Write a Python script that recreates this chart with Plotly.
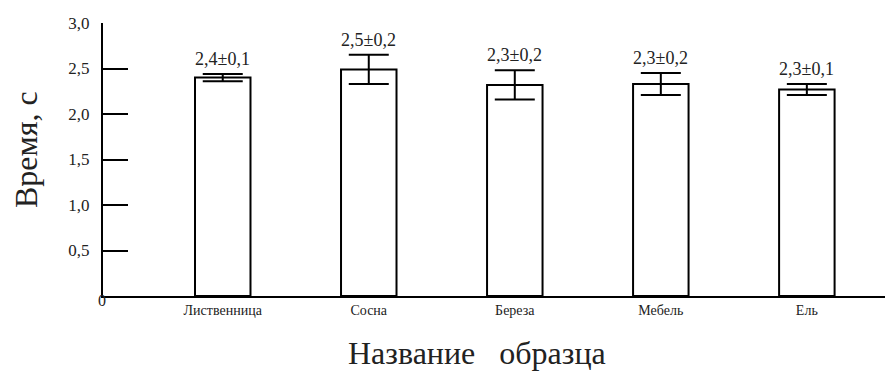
import plotly.graph_objects as go

categories = ["Лиственница", "Сосна", "Береза", "Мебель", "Ель"]
values = [2.40, 2.49, 2.32, 2.33, 2.27]
errors = [0.04, 0.16, 0.16, 0.12, 0.06]
value_labels = ["2,4±0,1", "2,5±0,2", "2,3±0,2", "2,3±0,2", "2,3±0,1"]
y_tickvals = [0.5, 1.0, 1.5, 2.0, 2.5, 3.0]
y_ticktext = ["0,5", "1,0", "1,5", "2,0", "2,5", "3,0"]
x_title = "Название   образца"
y_title = "Время, с"

FONT = "Liberation Serif, Times New Roman, serif"
TXT = "#222"

# page body has an 8px margin; figure is sized/offset to compensate
OFF = 8
W, H = 893 - OFF, 371 - OFF
L, T = 103 - OFF, 23 - OFF
B = H - (296 - OFF)

fig = go.Figure()
fig.add_trace(go.Bar(
    x=categories, y=values, width=0.38,
    marker=dict(color="white", line=dict(color="black", width=2)),
    error_y=dict(type="data", array=errors, visible=True, color="black",
                 thickness=2, width=20),
    showlegend=False,
))

for c, v, e, t in zip(categories, values, errors, value_labels):
    fig.add_annotation(x=c, y=v + e, text=t, showarrow=False, yanchor="bottom",
                       yshift=3, font=dict(family=FONT, size=18, color=TXT))

fig.add_annotation(xref="paper", yref="paper", x=0, xshift=-7, y=0, yshift=-15,
                   text="0", showarrow=False, font=dict(family=FONT, size=16, color=TXT))

pw = 893 - 103
fig.add_annotation(xref="paper", yref="paper", x=(477 - 103) / pw, y=0,
                   yshift=-57, yanchor="middle", xanchor="center",
                   text=x_title, showarrow=False,
                   font=dict(family=FONT, size=32, color=TXT))
fig.add_annotation(xref="paper", yref="paper", x=0, xshift=-77, y=(296 - 150) / 273,
                   textangle=-90, xanchor="center", yanchor="middle",
                   text=y_title, showarrow=False,
                   font=dict(family=FONT, size=32, color=TXT))

fig.update_layout(
    width=W, height=H,
    margin=dict(l=L, r=0, t=T, b=B, pad=0),
    plot_bgcolor="white", paper_bgcolor="white",
    font=dict(family=FONT, color=TXT),
)
fig.update_xaxes(
    range=[-0.82, 4.59], showgrid=False, zeroline=False, automargin=False,
    showline=True, linecolor="black", linewidth=2, ticks="",
    tickfont=dict(family=FONT, size=14, color=TXT),
)
fig.update_yaxes(
    range=[0, 3.0], showgrid=False, zeroline=False, automargin=False,
    showline=True, linecolor="black", linewidth=2,
    tickvals=y_tickvals, ticktext=y_ticktext,
    ticks="inside", ticklen=25, tickwidth=2, tickcolor="black",
    ticklabelstandoff=8,
    tickfont=dict(family=FONT, size=17, color=TXT),
)

fig.write_html("out.html")
